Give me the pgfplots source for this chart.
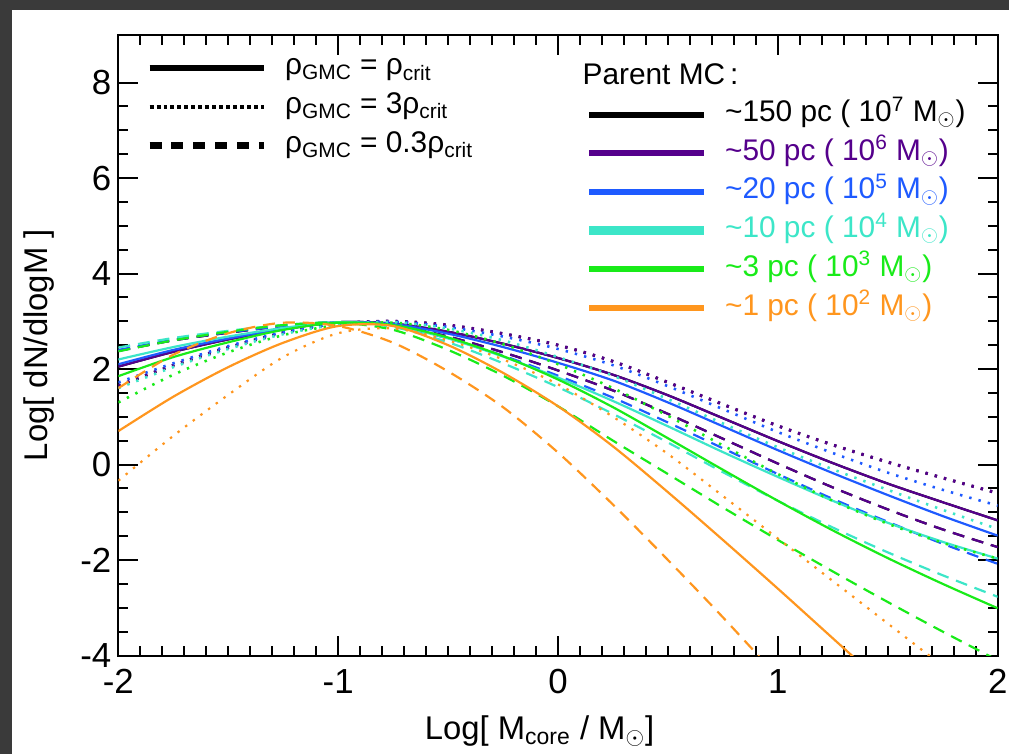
\documentclass[border=0pt]{standalone}
\usepackage{pgfplots}
\pgfplotsset{compat=1.18}
\usepackage{fontspec}
\setmainfont{Liberation Sans}
\definecolor{cpur}{RGB}{85,0,140}
\definecolor{cblu}{RGB}{30,90,255}
\definecolor{ccya}{RGB}{60,230,200}
\definecolor{cgrn}{RGB}{25,235,25}
\definecolor{cora}{RGB}{255,150,30}
\definecolor{bgdark}{RGB}{58,58,58}
\pgfplotsset{
  sol/.style={line width=1.1pt, smooth},
  dot/.style={line width=1.3pt, smooth, dash pattern=on 1.2pt off 3.6pt},
  das/.style={line width=1.1pt, smooth, dash pattern=on 6pt off 4pt},
  base/.style={
    scale only axis, width=442pt, height=312pt,
    at={(59.5pt,49.5pt)}, anchor=south west,
    xmin=-2, xmax=2, ymin=-4, ymax=9,
  },
}
\begin{document}
\begin{tikzpicture}
\fill[bgdark] (0pt,0pt) rectangle (507pt,379pt);
\fill[white] (6pt,0pt) rectangle (507pt,374pt);
\begin{axis}[base,
  axis line style={line width=1pt},
  tick align=inside,
  major tick length=10pt, minor tick length=5pt,
  every tick/.style={black, line width=1pt},
  xtick={-2,-1,0,1,2}, xticklabels={-2,-1,0,1,2},
  minor x tick num=9,
  ytick={-4,-2,0,2,4,6,8}, yticklabels={-4,-2,0,2,4,6,8},
  minor y tick num=3,
  tick pos=both,
  ticklabel style={font=\fontsize{17.5}{20}\selectfont},
  xticklabel style={yshift=-3.5pt},
  xlabel={Log[ M\textsubscript{core} / M$_\odot$]},
  ylabel={Log[ dN/dlogM ]},
  xlabel style={at={(axis description cs:0.479,-0.122)}, anchor=center, font=\fontsize{16.5}{20}\selectfont},
  ylabel style={at={(axis description cs:-0.09,0.5)}, anchor=center, font=\fontsize{16.5}{20}\selectfont},
  legend style={at={(axis cs:0.122,7.62)}, anchor=north west, draw=none, fill=none, inner sep=0pt, outer sep=0pt,
     nodes={inner sep=0pt, text height=10.5pt, text depth=3.5pt, font=\fontsize{15}{18}\selectfont},
     row sep=5.45pt, column sep=8.5pt},
  legend cell align=left,
  legend image code/.code={\draw[#1] (0pt,0pt) -- (57.5pt,0pt);},
]
% black (largely hidden beneath purple)
\addplot[black, sol, forget plot] coordinates {(-2,2.05) (-1.75,2.36) (-1.5,2.62) (-1.25,2.83) (-1,2.98) (-0.75,2.95) (-0.5,2.78) (-0.25,2.53) (0,2.23) (0.25,1.88) (0.5,1.45) (0.75,0.97) (1,0.49) (1.25,0.03) (1.5,-0.40) (1.75,-0.79) (2,-1.17)};
\addplot[black, dot, forget plot] coordinates {(-2,1.65) (-1.75,2.08) (-1.5,2.45) (-1.25,2.76) (-1,2.95) (-0.75,3.0) (-0.5,2.92) (-0.25,2.74) (0,2.5) (0.25,2.16) (0.5,1.72) (0.75,1.26) (1,0.81) (1.25,0.41) (1.5,0.05) (1.75,-0.28) (2,-0.60)};
\addplot[black, das, forget plot] coordinates {(-2,2.38) (-1.75,2.6) (-1.5,2.76) (-1.25,2.9) (-1,2.98) (-0.75,2.92) (-0.5,2.68) (-0.25,2.35) (0,1.97) (0.25,1.55) (0.5,1.06) (0.75,0.54) (1,0.02) (1.25,-0.48) (1.5,-0.94) (1.75,-1.36) (2,-1.73)};
% purple
\addplot[cpur, sol, forget plot] coordinates {(-2,2.05) (-1.75,2.36) (-1.5,2.62) (-1.25,2.83) (-1,2.98) (-0.75,2.95) (-0.5,2.78) (-0.25,2.53) (0,2.23) (0.25,1.88) (0.5,1.45) (0.75,0.97) (1,0.49) (1.25,0.03) (1.5,-0.40) (1.75,-0.79) (2,-1.17)};
\addplot[cpur, dot, line width=1.6pt, forget plot] coordinates {(-2,1.65) (-1.75,2.08) (-1.5,2.45) (-1.25,2.76) (-1,2.95) (-0.75,3.0) (-0.5,2.92) (-0.25,2.74) (0,2.5) (0.25,2.16) (0.5,1.72) (0.75,1.26) (1,0.81) (1.25,0.41) (1.5,0.05) (1.75,-0.28) (2,-0.60)};
\addplot[cpur, das, forget plot] coordinates {(-2,2.38) (-1.75,2.6) (-1.5,2.76) (-1.25,2.9) (-1,2.98) (-0.75,2.92) (-0.5,2.68) (-0.25,2.35) (0,1.97) (0.25,1.55) (0.5,1.06) (0.75,0.54) (1,0.02) (1.25,-0.48) (1.5,-0.94) (1.75,-1.36) (2,-1.73)};
% blue
\addplot[cblu, sol, forget plot] coordinates {(-2,2.1) (-1.75,2.4) (-1.5,2.64) (-1.25,2.84) (-1,2.98) (-0.75,2.94) (-0.5,2.74) (-0.25,2.46) (0,2.13) (0.25,1.76) (0.5,1.3) (0.75,0.8) (1,0.3) (1.25,-0.18) (1.5,-0.64) (1.75,-1.08) (2,-1.49)};
\addplot[cblu, dot, forget plot] coordinates {(-2,1.72) (-1.75,2.12) (-1.5,2.48) (-1.25,2.77) (-1,2.95) (-0.75,2.99) (-0.5,2.88) (-0.25,2.68) (0,2.42) (0.25,2.08) (0.5,1.64) (0.75,1.16) (1,0.68) (1.25,0.24) (1.5,-0.17) (1.75,-0.53) (2,-0.86)};
\addplot[cblu, das, forget plot] coordinates {(-2,2.4) (-1.75,2.61) (-1.5,2.77) (-1.25,2.9) (-1,2.98) (-0.75,2.9) (-0.5,2.64) (-0.25,2.28) (0,1.86) (0.25,1.4) (0.5,0.88) (0.75,0.34) (1,-0.2) (1.25,-0.72) (1.5,-1.2) (1.75,-1.66) (2,-2.08)};
% cyan
\addplot[ccya, sol, forget plot] coordinates {(-2,2.2) (-1.75,2.46) (-1.5,2.68) (-1.25,2.86) (-1,2.98) (-0.75,2.91) (-0.5,2.64) (-0.25,2.26) (0,1.82) (0.25,1.33) (0.5,0.8) (0.75,0.26) (1,-0.26) (1.25,-0.76) (1.5,-1.22) (1.75,-1.62) (2,-1.97)};
\addplot[ccya, dot, forget plot] coordinates {(-2,1.6) (-1.75,2.04) (-1.5,2.42) (-1.25,2.73) (-1,2.93) (-0.75,2.98) (-0.5,2.85) (-0.25,2.6) (0,2.25) (0.25,1.86) (0.5,1.37) (0.75,0.86) (1,0.36) (1.25,-0.1) (1.5,-0.53) (1.75,-0.95) (2,-1.35)};
\addplot[ccya, das, forget plot] coordinates {(-2,2.45) (-1.75,2.65) (-1.5,2.8) (-1.25,2.92) (-1,2.98) (-0.75,2.88) (-0.5,2.56) (-0.25,2.12) (0,1.62) (0.25,1.06) (0.5,0.46) (0.75,-0.16) (1,-0.76) (1.25,-1.32) (1.5,-1.84) (1.75,-2.32) (2,-2.77)};
% green
\addplot[cgrn, sol, forget plot] coordinates {(-2,1.85) (-1.75,2.25) (-1.5,2.56) (-1.25,2.82) (-1,2.97) (-0.75,2.92) (-0.5,2.66) (-0.25,2.27) (0,1.78) (0.25,1.2) (0.5,0.55) (0.75,-0.11) (1,-0.76) (1.25,-1.38) (1.5,-1.96) (1.75,-2.5) (2,-3.01)};
\addplot[cgrn, dot, forget plot] coordinates {(-2,1.3) (-1.75,1.88) (-1.5,2.35) (-1.25,2.71) (-1,2.92) (-0.75,2.97) (-0.5,2.82) (-0.25,2.52) (0,2.1) (0.25,1.6) (0.5,1.02) (0.75,0.4) (1,-0.2) (1.25,-0.76) (1.5,-1.24) (1.75,-1.64) (2,-1.97)};
\addplot[cgrn, das, forget plot] coordinates {(-2,2.37) (-1.75,2.6) (-1.5,2.78) (-1.25,2.92) (-1,2.97) (-0.75,2.82) (-0.5,2.4) (-0.25,1.86) (0,1.22) (0.25,0.5) (0.5,-0.2) (0.75,-0.9) (1,-1.58) (1.25,-2.24) (1.5,-2.88) (1.75,-3.5) (2,-4.1)};
% orange
\addplot[cora, sol, forget plot] coordinates {(-2,0.7) (-1.75,1.42) (-1.5,2.04) (-1.25,2.55) (-1,2.9) (-0.75,2.9) (-0.5,2.5) (-0.25,1.92) (0,1.22) (0.25,0.38) (0.5,-0.58) (0.75,-1.58) (1,-2.6) (1.25,-3.64) (1.5,-4.68)};
\addplot[cora, dot, line width=1.1pt, forget plot] coordinates {(-2,-0.34) (-1.75,0.6) (-1.5,1.46) (-1.25,2.25) (-1,2.75) (-0.75,2.85) (-0.5,2.6) (-0.25,2.2) (0,1.68) (0.25,1.0) (0.5,0.22) (0.75,-0.66) (1,-1.55) (1.25,-2.44) (1.5,-3.33) (1.75,-4.22)};
\addplot[cora, das, forget plot] coordinates {(-2,1.6) (-1.75,2.3) (-1.5,2.75) (-1.25,2.97) (-1,2.9) (-0.75,2.55) (-0.5,1.95) (-0.25,1.2) (0,0.25) (0.25,-0.84) (0.5,-2.0) (0.75,-3.2) (1,-4.45)};
% colour legend
\addlegendimage{black, line width=3pt}
\addlegendentry{\textasciitilde150 pc ( 10\textsuperscript{7} M$_\odot$)}
\addlegendimage{cpur, line width=3pt}
\addlegendentry{\textcolor{cpur}{\textasciitilde50 pc ( 10\textsuperscript{6} M$_\odot$)}}
\addlegendimage{cblu, line width=3pt}
\addlegendentry{\textcolor{cblu}{\textasciitilde20 pc ( 10\textsuperscript{5} M$_\odot$)}}
\addlegendimage{ccya, line width=4.5pt}
\addlegendentry{\textcolor{ccya}{\textasciitilde10 pc ( 10\textsuperscript{4} M$_\odot$)}}
\addlegendimage{cgrn, line width=3pt}
\addlegendentry{\textcolor{cgrn}{\textasciitilde3 pc ( 10\textsuperscript{3} M$_\odot$)}}
\addlegendimage{cora, line width=3pt}
\addlegendentry{\textcolor{cora}{\textasciitilde1 pc ( 10\textsuperscript{2} M$_\odot$)}}
\node[anchor=west, inner sep=0pt, font=\fontsize{15}{18}\selectfont] at (axis cs:0.11,8.17) {Parent MC\,:};
\end{axis}
\begin{axis}[base, hide axis,
  legend style={at={(axis cs:-1.873,8.60)}, anchor=north west, draw=none, fill=none, inner sep=0pt, outer sep=0pt,
    nodes={inner sep=0pt, text height=10.5pt, text depth=3.5pt, font=\fontsize{15}{18}\selectfont},
    row sep=5.5pt, column sep=9pt},
  legend cell align=left,
  legend image code/.code={\draw[#1] (0pt,0pt) -- (57.5pt,0pt);},
]
\addlegendimage{black, line width=3.3pt}
\addlegendentry{ρ\textsubscript{GMC} = ρ\textsubscript{crit}}
\addlegendimage{black, line width=2pt, dash pattern=on 2pt off 1.5pt}
\addlegendentry{ρ\textsubscript{GMC} = 3ρ\textsubscript{crit}}
\addlegendimage{black, line width=3.3pt, dash pattern=on 6pt off 5pt}
\addlegendentry{ρ\textsubscript{GMC} = 0.3ρ\textsubscript{crit}}
\end{axis}
\end{tikzpicture}
\end{document}
